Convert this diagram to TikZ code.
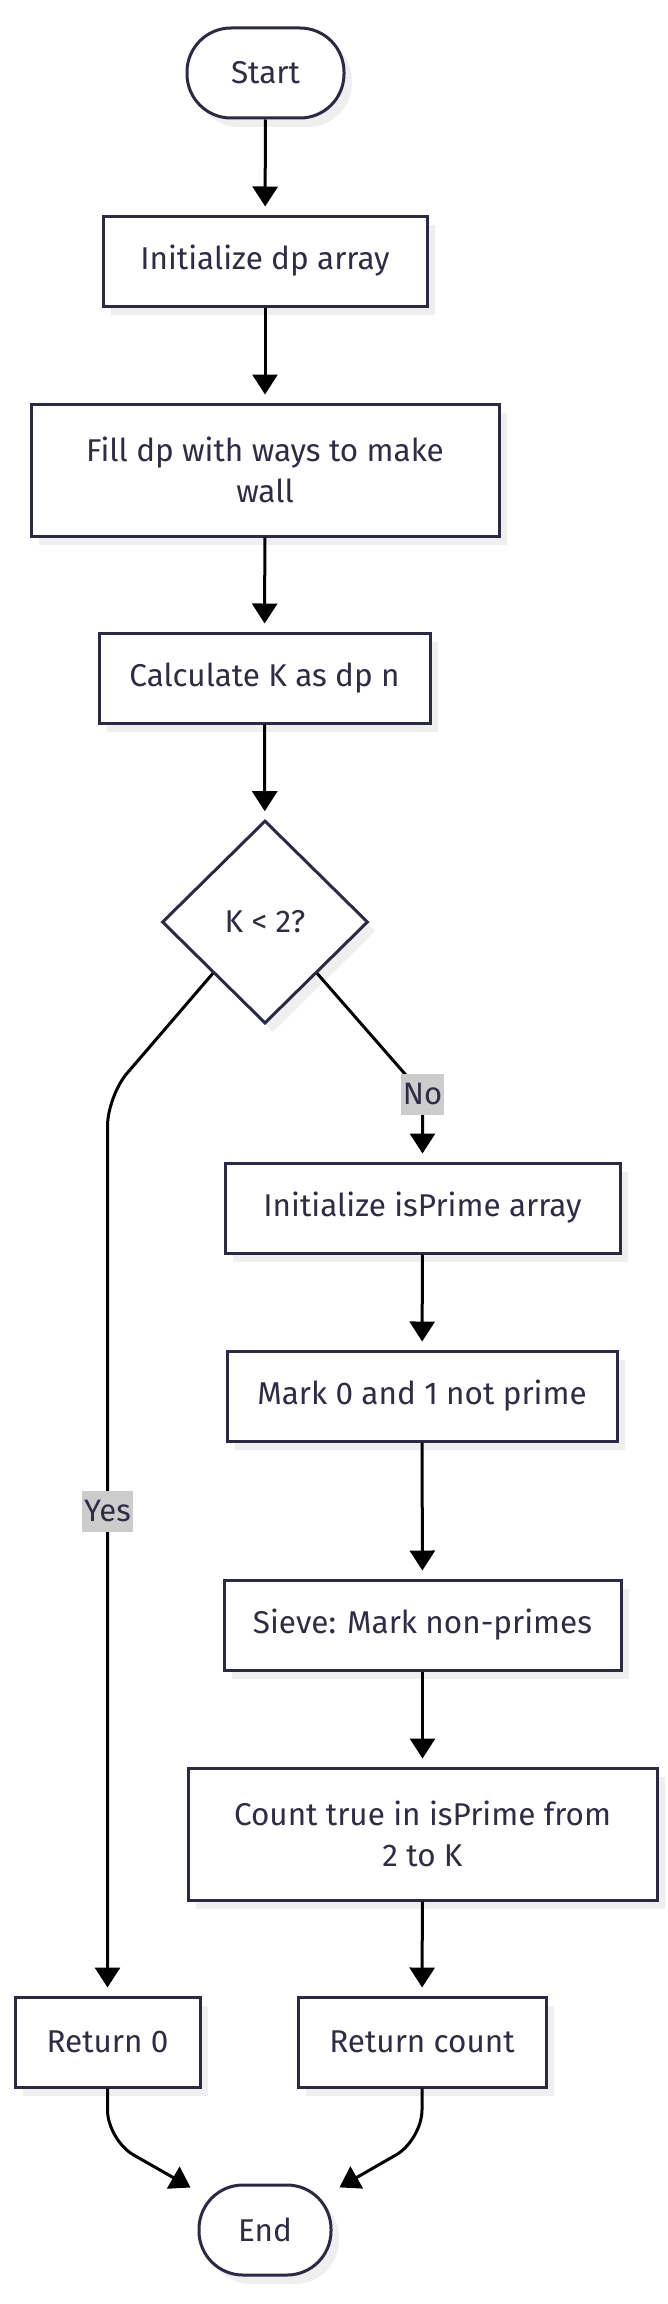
\documentclass[tikz,border=0pt]{standalone}
\usepackage{fontspec}
\setmainfont{Fira Sans}
\usetikzlibrary{shapes.geometric,arrows.meta,shadows}
\definecolor{bordercol}{HTML}{2B2A45}
\definecolor{textcol}{HTML}{2E2D45}
\definecolor{shcol}{HTML}{EFEFEF}
\definecolor{lblcol}{HTML}{CCCCCC}
\tikzset{
  base/.style={draw=bordercol, line width=3pt, fill=white, text=textcol, align=center,
    font=\fontsize{31.5}{41}\selectfont, inner sep=0pt,
    drop shadow={shadow xshift=8pt, shadow yshift=-9pt, fill=shcol, opacity=1}},
  procbox/.style={base, rectangle},
  termbox/.style={base, rectangle, rounded corners=44pt},
  decbox/.style={base, diamond, aspect=1},
  edge/.style={draw=black, line width=3pt, -{Triangle[width=25pt,length=20pt]}, shorten >=8pt},
  lbl/.style={sharp corners, fill=lblcol, text=textcol, font=\fontsize{31}{36}\selectfont, inner xsep=2pt, inner ysep=0pt, minimum height=41pt}
}
\begin{document}
\begin{tikzpicture}[x=1pt,y=-1pt]
\useasboundingbox (0,0) rectangle (668,2304);
\node[termbox, minimum width=157pt, minimum height=90pt] (start) at (265.5,73) {Start};
\node[procbox, minimum width=324pt, minimum height=90pt] (init) at (265,261) {Initialize dp array};
\node[procbox, minimum width=468pt, minimum height=132pt] (fill) at (265,470) {Fill dp with ways to make\\wall};
\node[procbox, minimum width=331pt, minimum height=90pt] (calc) at (264.5,678) {Calculate K as dp n};
\node[decbox, minimum width=206pt, minimum height=203pt] (dec) at (265,922) {K < 2?};
\node[procbox, minimum width=395pt, minimum height=90pt] (initp) at (422.5,1208) {Initialize isPrime array};
\node[procbox, minimum width=390pt, minimum height=90pt] (mark) at (422,1396) {Mark 0 and 1 not prime};
\node[procbox, minimum width=397pt, minimum height=90pt] (sieve) at (422.5,1625) {Sieve: Mark non-primes};
\node[procbox, minimum width=469pt, minimum height=132pt] (count) at (422.5,1834) {Count true in isPrime from\\2 to K};
\node[procbox, minimum width=185pt, minimum height=90pt] (ret0) at (107.5,2042) {Return 0};
\node[procbox, minimum width=248pt, minimum height=90pt] (retc) at (422,2042) {Return count};
\node[termbox, minimum width=132pt, minimum height=90pt] (end) at (265,2230) {End};

\coordinate (yc) at (107.5,1096);
\coordinate (nc) at (422.5,1094);
\coordinate (lc) at (107.5,2140);
\coordinate (rc) at (422,2140);

\draw[edge] (start) -- (init);
\draw[edge] (init) -- (fill);
\draw[edge] (fill) -- (calc);
\draw[edge] (calc) -- (dec);
\draw[edge, rounded corners=30pt] (dec.south west) -- (yc) -- (ret0);
\node[lbl] (yes) at (107.5,1511) {Yes};
\draw[edge, rounded corners=20pt] (dec.south east) -- (nc) -- (initp);
\node[lbl] (no) at (nc) {No};
\draw[edge] (initp) -- (mark);
\draw[edge] (mark) -- (sieve);
\draw[edge] (sieve) -- (count);
\draw[edge] (count) -- (retc);
\draw[edge, rounded corners=30pt] (ret0) -- (lc) -- (end);
\draw[edge, rounded corners=30pt] (retc) -- (rc) -- (end);
\end{tikzpicture}
\end{document}
